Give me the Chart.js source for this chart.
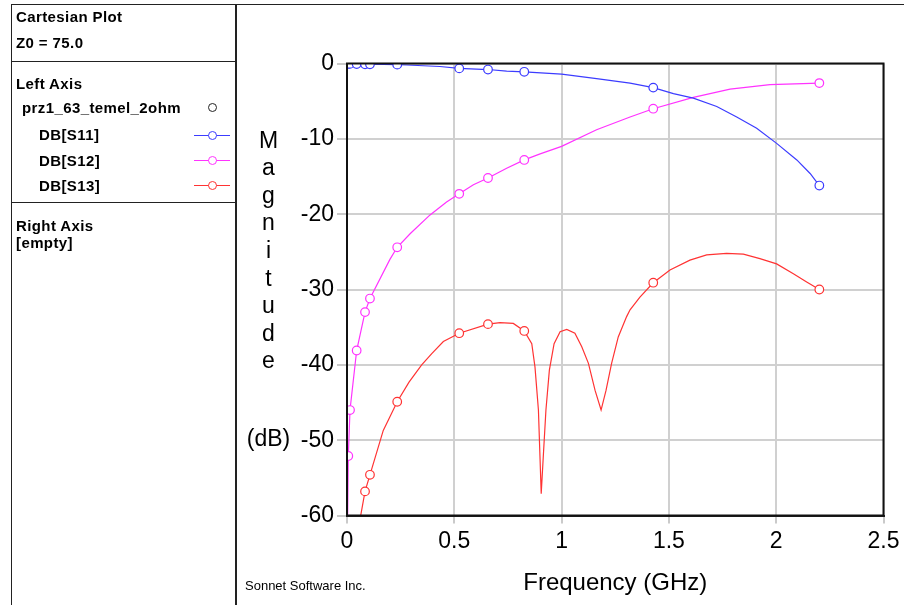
<!DOCTYPE html>
<html><head><meta charset="utf-8">
<script src="https://cdn.jsdelivr.net/npm/chart.js@4.4.0/dist/chart.umd.min.js"></script>
<style>
html,body{margin:0;padding:0;background:#fff;}
#wrap{position:relative;width:904px;height:605px;overflow:hidden;background:#fff;}
#c{position:absolute;left:0;top:0;}
.ln{position:absolute;background:#222;}
.t{position:absolute;font-family:"Liberation Sans",Arial,sans-serif;font-weight:bold;font-size:15px;letter-spacing:0.4px;color:#000;white-space:nowrap;line-height:15px;}
.leg{position:absolute;height:1px;width:36px;}
.circ{position:absolute;width:9px;height:9px;border-radius:50%;background:#fff;box-sizing:border-box;border:1px solid;}
</style></head>
<body><div id="wrap">
<canvas id="c" width="904" height="605"></canvas>
<div class="ln" style="left:11px;top:4px;width:893px;height:1px;"></div>
<div class="ln" style="left:11px;top:4px;width:1px;height:601px;"></div>
<div class="ln" style="left:235px;top:4px;width:2px;height:601px;"></div>
<div class="ln" style="left:11px;top:61px;width:225px;height:1px;"></div>
<div class="ln" style="left:11px;top:202px;width:225px;height:1px;"></div>
<div class="t" style="left:16px;top:9px;">Cartesian Plot</div>
<div class="t" style="left:16px;top:35px;">Z0 = 75.0</div>
<div class="t" style="left:16px;top:76px;">Left Axis</div>
<div class="t" style="left:22px;top:100px;">prz1_63_temel_2ohm</div>
<div class="circ" style="left:207.5px;top:103px;border-color:#222;"></div>
<div class="t" style="left:39px;top:127px;">DB[S11]</div>
<div class="leg" style="left:194px;top:134.5px;background:#3c3cff;"></div>
<div class="circ" style="left:207.5px;top:130.5px;border-color:#3c3cff;"></div>
<div class="t" style="left:39px;top:153px;">DB[S12]</div>
<div class="leg" style="left:194px;top:160px;background:#ff33ff;"></div>
<div class="circ" style="left:207.5px;top:156px;border-color:#ff33ff;"></div>
<div class="t" style="left:39px;top:178px;">DB[S13]</div>
<div class="leg" style="left:194px;top:185px;background:#ff3333;"></div>
<div class="circ" style="left:207.5px;top:181px;border-color:#ff3333;"></div>
<div class="t" style="left:16px;top:218px;">Right Axis</div>
<div class="t" style="left:16px;top:235px;">[empty]</div>
</div>
<script>
// ---- data ----
const xTickLabels = ['0','0.5','1','1.5','2','2.5'];
const yTickLabels = ['0','-10','-20','-30','-40','-50','-60'];

// sweep points (markers)
const markerFreq = [0.006, 0.014, 0.045, 0.084, 0.107, 0.234, 0.523, 0.657, 0.826, 1.427, 2.201];
const s11Markers = [-0.05, -0.05, -0.08, -0.1, -0.1, -0.15, -0.65, -0.8, -1.1, -3.2, -16.2];
const s12Markers = [-52.1, -46.0, -38.1, -33.0, -31.2, -24.4, -17.3, -15.2, -12.8, -6.0, -2.6];
const s13Markers = [-80, -72, -63, -56.8, -54.6, -44.9, -35.8, -34.6, -35.5, -29.1, -30.0];

// interpolated curve (as drawn)
const s11Freq = [0.006, 0.014, 0.045, 0.084, 0.107, 0.234, 0.278, 0.433, 0.523, 0.657, 0.744, 0.826, 1.0, 1.163, 1.319, 1.427, 1.521, 1.614, 1.723, 1.816, 1.909, 2.002, 2.096, 2.158, 2.201];
const s11Curve = [-0.05, -0.05, -0.08, -0.1, -0.1, -0.15, -0.2, -0.4, -0.65, -0.8, -1.0, -1.1, -1.4, -2.0, -2.6, -3.2, -4.0, -4.6, -5.7, -7.1, -8.6, -10.6, -12.8, -14.6, -16.2];

const s12Freq = [0.001, 0.006, 0.014, 0.045, 0.084, 0.107, 0.2, 0.234, 0.294, 0.387, 0.464, 0.523, 0.589, 0.657, 0.744, 0.826, 0.9, 1.0, 1.163, 1.319, 1.427, 1.614, 1.785, 1.971, 2.201];
const s12Curve = [-66, -52.1, -46.0, -38.1, -33.0, -31.2, -26.0, -24.4, -22.6, -20.1, -18.4, -17.3, -16.1, -15.2, -13.9, -12.8, -12.0, -11.0, -8.8, -7.1, -6.0, -4.5, -3.4, -2.8, -2.6];

const s13Freq = [0.006, 0.014, 0.045, 0.084, 0.107, 0.169, 0.234, 0.289, 0.348, 0.395, 0.449, 0.523, 0.657, 0.713, 0.775, 0.826, 0.861, 0.876, 0.892, 0.899, 0.905, 0.915, 0.927, 0.943, 0.965, 0.993, 1.024, 1.062, 1.094, 1.125, 1.156, 1.184, 1.207, 1.233, 1.264, 1.303, 1.319, 1.365, 1.427, 1.505, 1.598, 1.676, 1.769, 1.847, 1.924, 2.002, 2.08, 2.142, 2.201];
const s13Curve = [-80, -72, -63, -56.8, -54.6, -48.7, -44.9, -42.3, -40.0, -38.5, -36.9, -35.8, -34.6, -34.4, -34.5, -35.5, -37.2, -40.3, -46.0, -52.0, -57.1, -52.0, -46.0, -40.7, -37.2, -35.6, -35.3, -35.8, -37.6, -39.8, -43.4, -46.0, -43.4, -39.8, -36.3, -33.6, -32.7, -31.0, -29.1, -27.4, -26.1, -25.4, -25.2, -25.3, -25.9, -26.6, -27.9, -29.0, -30.0];

const colS11 = '#3c3cff', colS12 = '#ff33ff', colS13 = '#ff3333';

const pts = (xs, ys) => xs.map((x, i) => ({x, y: ys[i]}));
const lineDs = (xs, ys, c) => ({data: pts(xs, ys), showLine: true, borderColor: c, borderWidth: 1.2, pointRadius: 0, tension: 0, clip: 0, order: 2});
const markDs = (ys, c) => ({data: pts(markerFreq, ys), showLine: false, borderColor: c, backgroundColor: '#fff', pointBackgroundColor: '#fff', pointBorderColor: c, pointBorderWidth: 1.2, pointRadius: 4.3, pointStyle: 'circle', clip: 0, order: 1});

const FONT = '"Liberation Sans", Arial, sans-serif';

const textPlugin = {
  id: 'texts',
  afterDatasetsDraw(chart) {
    const {ctx, chartArea: a} = chart;
    ctx.save();
    ctx.strokeStyle = '#111';
    ctx.lineWidth = 2;
    ctx.strokeRect(a.left, a.top, a.right - a.left, a.bottom - a.top);
    ctx.restore();
  },
  afterDraw(chart) {
    const {ctx, chartArea: a} = chart;
    ctx.save();
    ctx.fillStyle = '#000';
    ctx.textAlign = 'center';
    ctx.textBaseline = 'alphabetic';
    ctx.font = '23px ' + FONT;
    const letters = ['M','a','g','n','i','t','u','d','e'];
    letters.forEach((l, i) => ctx.fillText(l, 268.5, 147.5 + i * 27.6));
    ctx.fillText('(dB)', 268.5, 446);
    ctx.font = '24px ' + FONT;
    ctx.fillText('Frequency (GHz)', (a.left + a.right) / 2, 590);
    ctx.textAlign = 'left';
    ctx.font = '13px ' + FONT;
    ctx.fillText('Sonnet Software Inc.', 245, 590);
    ctx.restore();
  }
};

new Chart(document.getElementById('c'), {
  type: 'scatter',
  data: {
    datasets: [
      lineDs(s11Freq, s11Curve, colS11),
      lineDs(s12Freq, s12Curve, colS12),
      lineDs(s13Freq, s13Curve, colS13),
      markDs(s11Markers, colS11),
      markDs(s12Markers, colS12),
      markDs(s13Markers, colS13)
    ]
  },
  options: {
    responsive: false,
    animation: false,
    devicePixelRatio: 1,
    layout: {padding: {left: 237, right: 20.5, top: 63.5, bottom: 0}},
    plugins: {legend: {display: false}, tooltip: {enabled: false}, title: {display: false}},
    scales: {
      x: {
        type: 'linear', min: 0, max: 2.5,
        afterFit: s => { s.height = 89.5; },
        ticks: {stepSize: 0.5, color: '#000', font: {family: FONT, size: 23}, padding: 4, maxRotation: 0,
          callback: (v) => { const i = Math.round(v / 0.5); return xTickLabels[i]; }},
        grid: {color: '#d0d0d0', lineWidth: 2, tickLength: 8, tickColor: '#b8b8b8', tickWidth: 1.5},
        border: {color: '#222', width: 2}
      },
      y: {
        type: 'linear', min: -60, max: 0,
        afterFit: s => { s.width = 110; },
        ticks: {stepSize: 10, color: '#000', font: {family: FONT, size: 23}, padding: 3,
          callback: (v) => { const i = Math.round(-v / 10); return yTickLabels[i]; }},
        grid: {color: '#d0d0d0', lineWidth: 2, tickLength: 10, tickColor: '#b8b8b8', tickWidth: 1.5},
        border: {color: '#222', width: 2}
      }
    }
  },
  plugins: [textPlugin]
});
</script>
</body></html>
